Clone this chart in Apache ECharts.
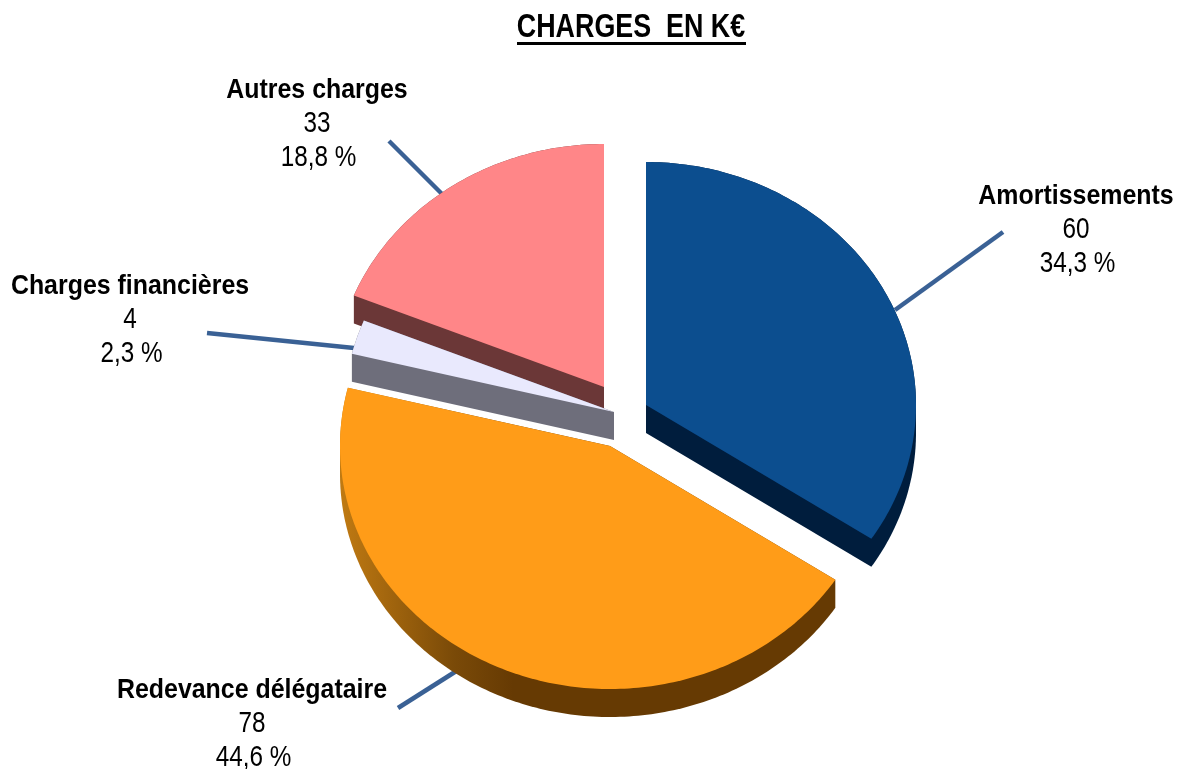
<!DOCTYPE html>
<html>
<head>
<meta charset="utf-8">
<title>Charges en k€</title>
<script src="https://cdn.jsdelivr.net/npm/echarts@6/dist/echarts.min.js"></script>
<style>
  html, body { margin: 0; padding: 0; background: #fff; }
  #chart { width: 1177px; height: 769px; }
</style>
</head>
<body>
<div id="chart"></div>
<script>
// data
const categories = ['Amortissements', 'Redevance délégataire', 'Charges financières', 'Autres charges'];
const values = [60, 78, 4, 33];
const percentLabels = ['34,3 %', '44,6 %', '2,3 %', '18,8 %'];
const titleText = 'CHARGES  EN K€';

// styles
const topColors = ['#0C4E8F', '#FF9C18', '#E9E9FD', '#FF8688'];
const wallColors = [
  '#001D3D',
  new echarts.graphic.LinearGradient(0, 0, 1, 0, [
    { offset: 0, color: '#C07A12' },
    { offset: 0.23, color: '#7A4A08' },
    { offset: 0.35, color: '#663A03' },
    { offset: 1, color: '#663A03' }
  ]),
  '#6E6E7B',
  '#6B3737'
];
const leaderColor = '#3A6195';
const fontFamily = '"Liberation Sans", Arial, sans-serif';

// layout: the 3D pie is an ellipse, each slice pulled away from the middle
const radiusX = 270;
const radiusY = 243;
const depth = 28;
const apexes = [[646, 405], [610, 446], [614, 412], [604, 387]];
const layers = [10, 10, 30, 20];
const leaders = [
  [[895, 310], [1003, 232]],
  [[458, 670], [398, 708]],
  [[354, 348], [207, 333]],
  [[443, 195], [389, 141]]
];
const labelCenters = [[1076, 196], [252, 690], [130, 286], [317, 90]];
const lineHeight = 34;
// no narrow font here, so the text is squeezed sideways
const boldScale = 0.89;
const normalScale = 0.81;
const percentShift = 1.5;

const total = values.reduce((a, b) => a + b, 0);

// convex hull of the top face and the same face moved down, gives the side wall
function hull(points) {
  const pts = points.slice().sort((a, b) => a[0] - b[0] || a[1] - b[1]);
  const cross = (o, a, b) => (a[0] - o[0]) * (b[1] - o[1]) - (a[1] - o[1]) * (b[0] - o[0]);
  const half = list => {
    const out = [];
    list.forEach(p => {
      while (out.length > 1 && cross(out[out.length - 2], out[out.length - 1], p) <= 0) out.pop();
      out.push(p);
    });
    out.pop();
    return out;
  };
  return half(pts).concat(half(pts.slice().reverse()));
}

function renderSlice(params, api) {
  const i = params.dataIndex;
  const before = values.slice(0, i).reduce((a, b) => a + b, 0);
  const from = before / total * Math.PI * 2;
  const to = (before + api.value(0)) / total * Math.PI * 2;
  const [ax, ay] = apexes[i];

  const top = [[ax, ay]];
  const steps = Math.max(8, Math.round((to - from) * 60));
  for (let s = 0; s <= steps; s++) {
    const t = from + (to - from) * s / steps;
    top.push([ax + radiusX * Math.sin(t), ay - radiusY * Math.cos(t)]);
  }
  const wall = hull(top.concat(top.map(p => [p[0], p[1] + depth])));

  const [lx, ly] = labelCenters[i];
  const line = (text, n, bold, shift) => ({
    type: 'text',
    z2: 50,
    x: lx + shift,
    y: ly + n * lineHeight,
    scaleX: bold ? boldScale : normalScale,
    style: {
      text: text,
      fill: '#000',
      align: 'center',
      verticalAlign: 'middle',
      font: bold ? 'bold 28px ' + fontFamily : 'normal 30px ' + fontFamily
    }
  });

  return {
    type: 'group',
    children: [
      {
        type: 'line',
        z2: 1,
        shape: { x1: leaders[i][0][0], y1: leaders[i][0][1], x2: leaders[i][1][0], y2: leaders[i][1][1] },
        style: { stroke: leaderColor, lineWidth: 4.5 }
      },
      { type: 'polygon', z2: layers[i], shape: { points: wall }, style: { fill: wallColors[i] } },
      { type: 'polygon', z2: layers[i] + 1, shape: { points: top }, style: { fill: topColors[i] } },
      line(categories[i], 0, true, 0),
      line(String(api.value(0)), 1, false, 0),
      line(percentLabels[i], 2, false, percentShift)
    ]
  };
}

const chart = echarts.init(document.getElementById('chart'));
chart.setOption({
  animation: false,
  backgroundColor: '#fff',
  graphic: [
    {
      type: 'text',
      x: 631,
      y: 28,
      scaleX: 0.79,
      style: {
        text: titleText,
        fill: '#000',
        align: 'center',
        verticalAlign: 'middle',
        font: 'bold 34px ' + fontFamily
      }
    },
    { type: 'rect', shape: { x: 517, y: 42, width: 229, height: 3 }, style: { fill: '#000' } }
  ],
  series: [
    {
      type: 'custom',
      coordinateSystem: 'none',
      renderItem: renderSlice,
      data: values
    }
  ]
});
</script>
</body>
</html>
